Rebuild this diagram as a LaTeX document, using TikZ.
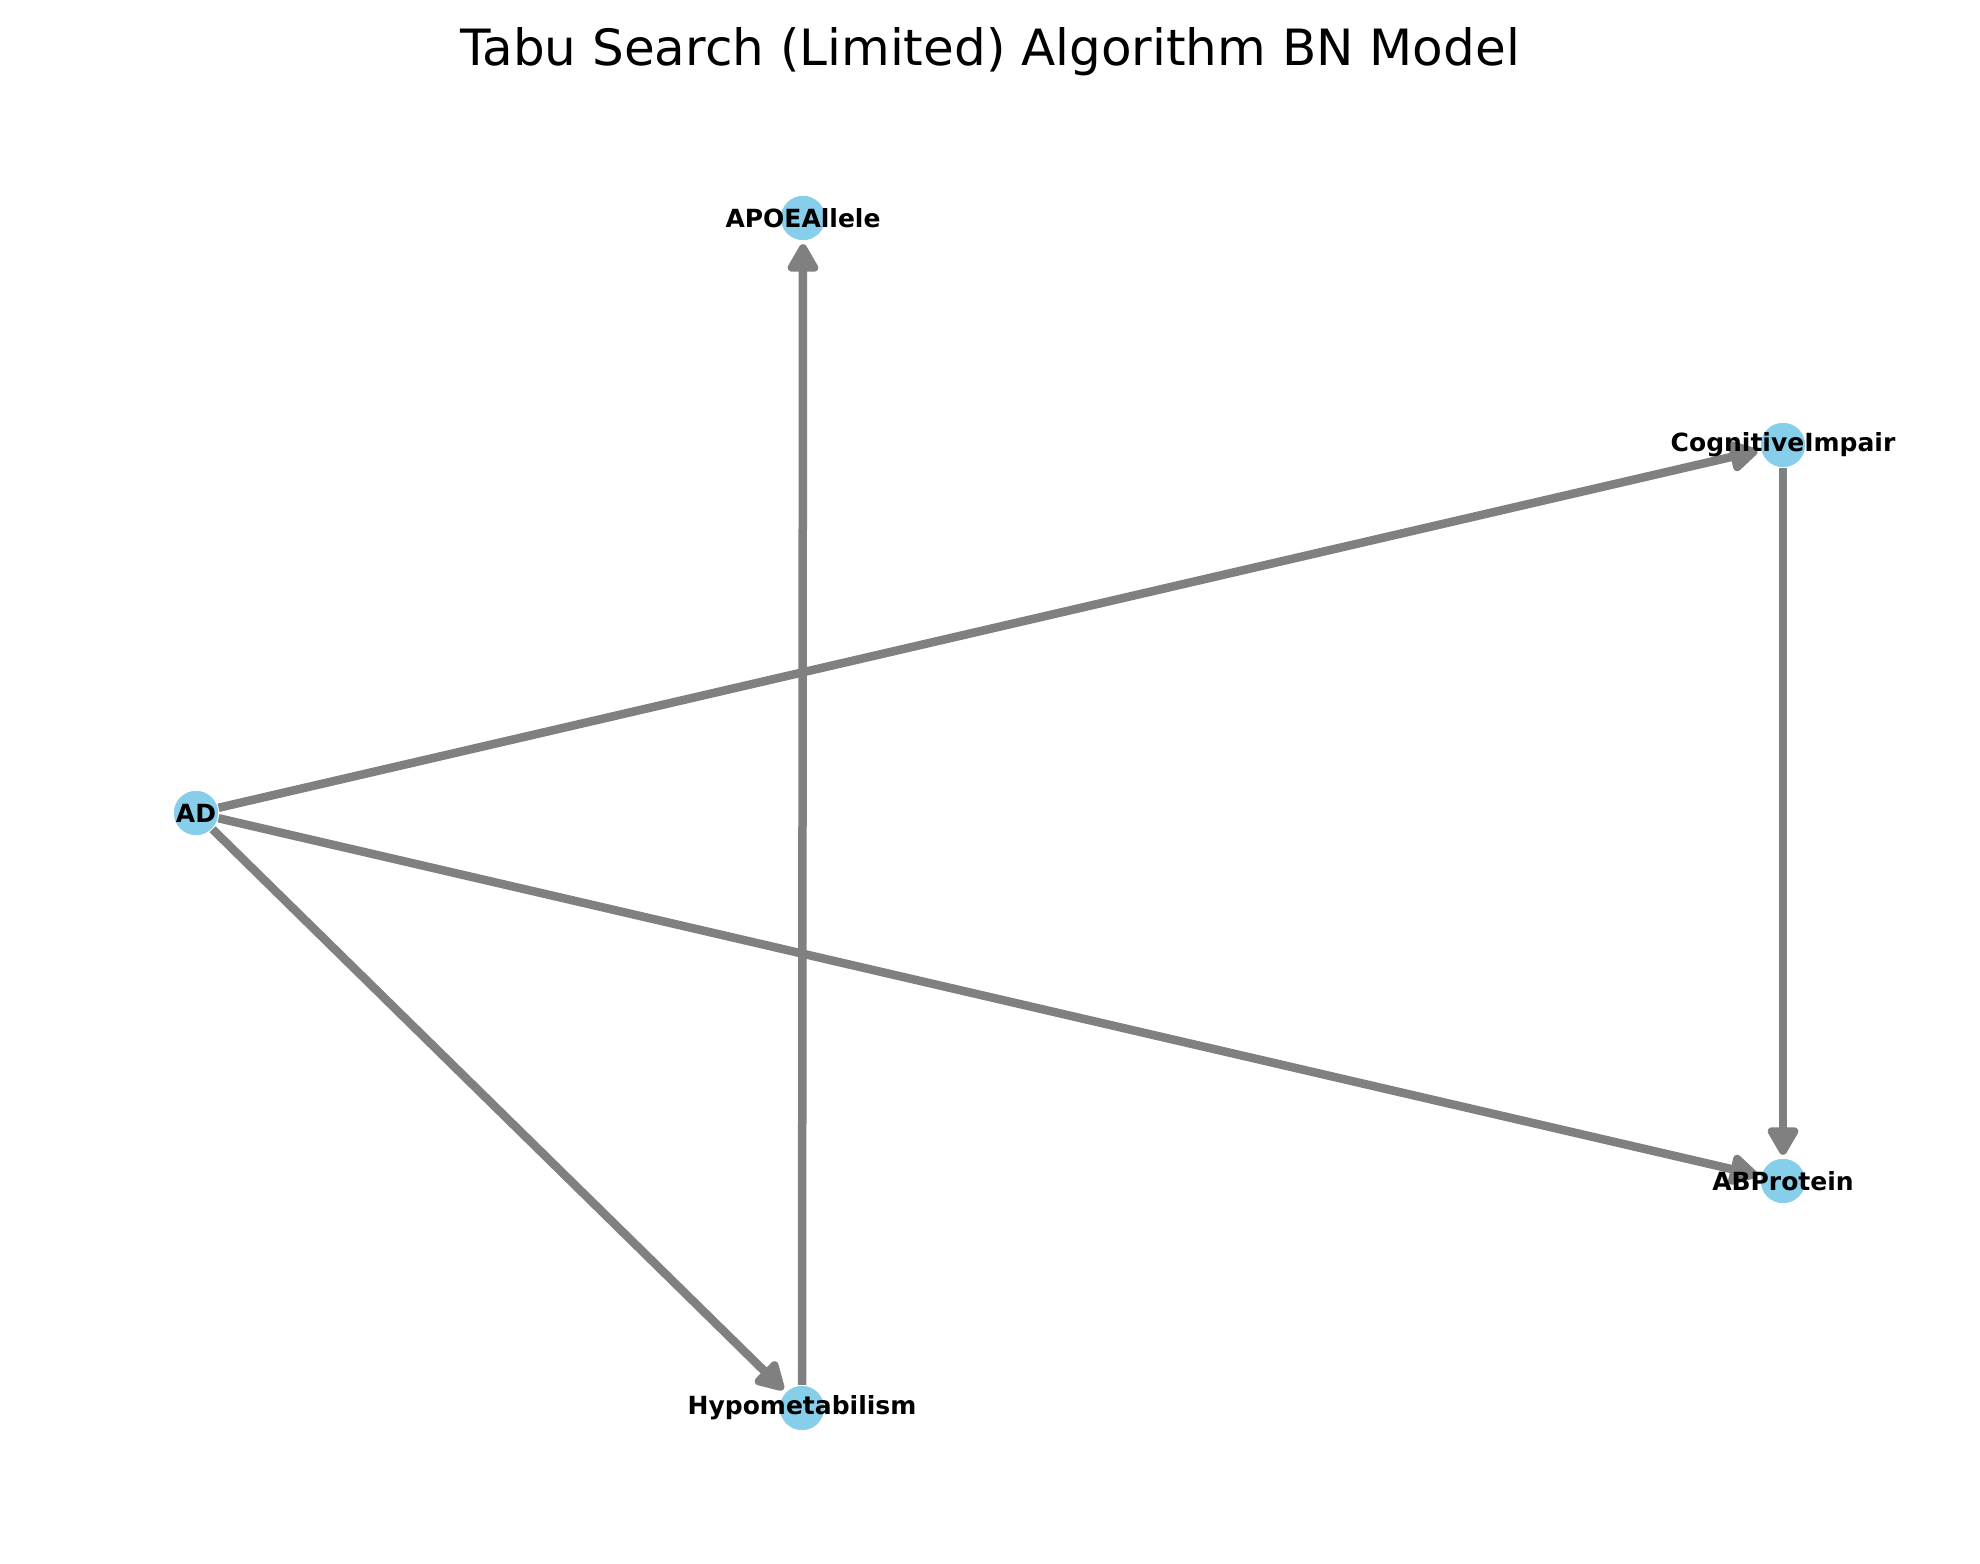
\documentclass[tikz,border=0pt]{standalone}
\usepackage{fontspec}
\setmainfont{DejaVu Sans}
\usetikzlibrary{arrows.meta}
\definecolor{nodeblue}{HTML}{87CEEB}
\definecolor{edgegrey}{HTML}{808080}
\tikzset{
  bnnode/.style={circle, fill=nodeblue, draw=none, minimum size=44pt, inner sep=0pt},
  bnlabel/.style={font=\fontsize{25}{30}\selectfont\bfseries, inner sep=0pt, anchor=center},
  bnedge/.style={draw=edgegrey, line width=8.5pt, shorten >=4pt, shorten <=1pt,
    -{Triangle[length=32pt,width=34pt,round]}},
  titlestyle/.style={font=\fontsize{50}{60}\selectfont, inner sep=0pt, anchor=center}
}
\begin{document}
\begin{tikzpicture}[x=1pt,y=-1pt]
\useasboundingbox (0,0) rectangle (1980,1563);
\fill[white] (0,0) rectangle (1980,1563);
\node[titlestyle] (title) at (990,52) {Tabu Search (Limited) Algorithm BN Model};
% nodes
\node[bnnode] (apoe) at (803,218) {};
\node[bnnode] (cog) at (1783,445) {};
\node[bnnode] (ad) at (196,813) {};
\node[bnnode] (ab) at (1783,1181) {};
\node[bnnode] (hypo) at (802,1408) {};
% edges
\draw[bnedge] (ad) -- (cog);
\draw[bnedge] (ad) -- (ab);
\draw[bnedge] (ad) -- (hypo);
\draw[bnedge] (hypo) -- (apoe);
\draw[bnedge] (cog) -- (ab);
% redraw nodes on top of edges
\fill[nodeblue] (apoe.center) circle (22pt);
\fill[nodeblue] (cog.center) circle (22pt);
\fill[nodeblue] (ad.center) circle (22pt);
\fill[nodeblue] (ab.center) circle (22pt);
\fill[nodeblue] (hypo.center) circle (22pt);
% labels
\node[bnlabel] (apoelab) at (apoe.center) {APOEAllele};
\node[bnlabel] (coglab) at (cog.center) {CognitiveImpair};
\node[bnlabel] (adlab) at (ad.center) {AD};
\node[bnlabel] (ablab) at (ab.center) {ABProtein};
\node[bnlabel] (hypolab) at (hypo.center) {Hypometabilism};
\end{tikzpicture}
\end{document}
